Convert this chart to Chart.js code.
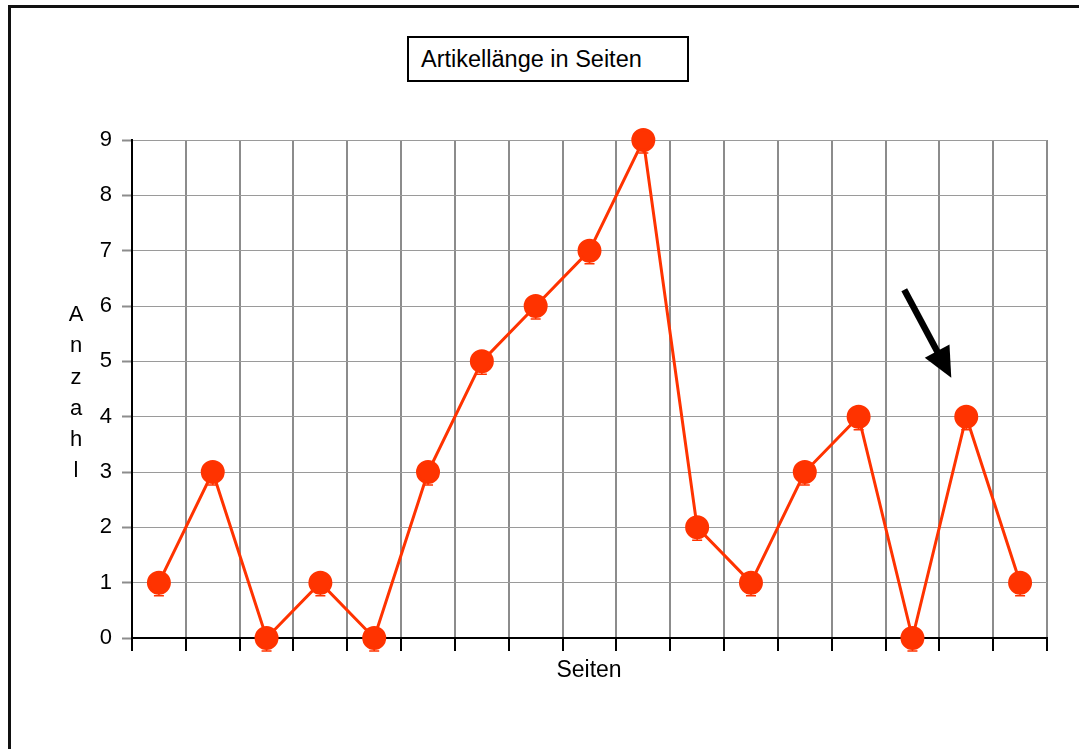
<!DOCTYPE html>
<html>
<head>
<meta charset="utf-8">
<script src="https://cdn.jsdelivr.net/npm/chart.js@4.4.1/dist/chart.umd.min.js"></script>
<style>
  html, body { margin: 0; padding: 0; background: #fff; overflow: hidden; }
  #wrap { position: relative; width: 1079px; height: 749px; font-family: "Liberation Sans", Arial, sans-serif; }
  #frame { position: absolute; left: 8px; top: 5px; width: 1200px; height: 900px; border: 3px solid #111; box-sizing: border-box; }
  #chart { position: absolute; left: 0; top: 0; }
  #title { position: absolute; left: 407px; top: 36px; width: 282px; height: 46px; border: 2px solid #000; box-sizing: border-box;
           font-size: 23.5px; line-height: 42px; padding-left: 12px; color: #000; background: #fff; white-space: nowrap; }
  #xtitle { position: absolute; left: 489px; width: 200px; top: 656px; text-align: center; font-size: 23px; color: #000; }
  #ytitle { position: absolute; left: 61px; width: 30px; top: 298px; text-align: center; font-size: 22px; line-height: 31.3px; color: #000; }
</style>
</head>
<body>
<div id="wrap">
  <div id="frame"></div>
  <canvas id="chart" width="1079" height="749"></canvas>
  <div id="title">Artikellänge in Seiten</div>
  <div id="xtitle">Seiten</div>
  <div id="ytitle">A<br>n<br>z<br>a<br>h<br>l</div>
</div>
<script>
// Article length in pages: number of articles per category
const pages = ['1','2','3','4','5','6','7','8','9','10','11','12','13','14','15','16','17'];
const counts = [1, 3, 0, 1, 0, 3, 5, 6, 7, 9, 2, 1, 3, 4, 0, 4, 1];
const yTicks = [0, 1, 2, 3, 4, 5, 6, 7, 8, 9];
const highlightIndex = 15;   // category marked with the arrow

const red = '#ff3300';

// small whisker under every marker
const whiskers = {
  id: 'whiskers',
  afterDatasetsDraw(chart) {
    const ctx = chart.ctx;
    const meta = chart.getDatasetMeta(0);
    ctx.save();
    ctx.strokeStyle = red;
    ctx.lineWidth = 1.5;
    meta.data.forEach(pt => {
      const x = pt.x, y = pt.y;
      ctx.beginPath();
      ctx.moveTo(x, y + 9);
      ctx.lineTo(x, y + 13);
      ctx.moveTo(x - 5, y + 13);
      ctx.lineTo(x + 5, y + 13);
      ctx.stroke();
    });
    ctx.restore();
  }
};

// arrow pointing at the highlighted category
const arrow = {
  id: 'arrow',
  afterDatasetsDraw(chart) {
    const ctx = chart.ctx;
    const pt = chart.getDatasetMeta(0).data[highlightIndex];
    const tipX = pt.x - 15, tipY = pt.y - 39;
    const sx = pt.x - 62, sy = pt.y - 127;
    const ang = Math.atan2(tipY - sy, tipX - sx);
    const headLen = 30, headW = 14;
    const bx = tipX - headLen * Math.cos(ang), by = tipY - headLen * Math.sin(ang);
    ctx.save();
    ctx.strokeStyle = '#000';
    ctx.fillStyle = '#000';
    ctx.lineWidth = 6.5;
    ctx.lineCap = 'butt';
    ctx.beginPath();
    ctx.moveTo(sx, sy);
    ctx.lineTo(bx + 2 * Math.cos(ang), by + 2 * Math.sin(ang));
    ctx.stroke();
    ctx.beginPath();
    ctx.moveTo(tipX, tipY);
    ctx.lineTo(bx + headW * Math.sin(ang), by - headW * Math.cos(ang));
    ctx.lineTo(bx - headW * Math.sin(ang), by + headW * Math.cos(ang));
    ctx.closePath();
    ctx.fill();
    ctx.restore();
  }
};

new Chart(document.getElementById('chart'), {
  type: 'line',
  data: {
    labels: pages,
    datasets: [{
      data: counts,
      borderColor: red,
      backgroundColor: red,
      borderWidth: 3,
      pointRadius: 10.5,
      pointHoverRadius: 10.5,
      pointBackgroundColor: red,
      pointBorderColor: red,
      tension: 0,
      clip: false
    }]
  },
  options: {
    responsive: false,
    animation: false,
    events: [],
    layout: { padding: { left: 0, right: 32, top: 140, bottom: 0 } },
    plugins: { legend: { display: false }, tooltip: { enabled: false }, title: { display: false } },
    scales: {
      x: {
        type: 'category',
        offset: true,
        grid: {
          offset: true,
          color: c => c.index === 0 ? 'rgba(0,0,0,0)' : '#8c8c8c',
          lineWidth: 2,
          drawTicks: true,
          tickLength: 13,
          tickColor: '#000',
          tickWidth: 2
        },
        border: { color: '#000', width: 2 },
        ticks: { display: false },
        afterFit: s => { s.height = 111; }
      },
      y: {
        min: 0,
        max: 9,
        afterBuildTicks: s => { s.ticks = yTicks.map(v => ({ value: v })); },
        grid: {
          color: c => c.index === 0 ? 'rgba(0,0,0,0)' : '#9a9a9a',
          lineWidth: 1,
          tickLength: 10,
          tickColor: '#8c8c8c',
          tickWidth: 2
        },
        border: { color: '#000', width: 2, z: 1 },
        ticks: {
          color: '#000',
          padding: 10,
          font: { family: '"Liberation Sans", Arial, sans-serif', size: 22 }
        },
        afterFit: s => { s.width = 132; }
      }
    }
  },
  plugins: [whiskers, arrow]
});
</script>
</body>
</html>
